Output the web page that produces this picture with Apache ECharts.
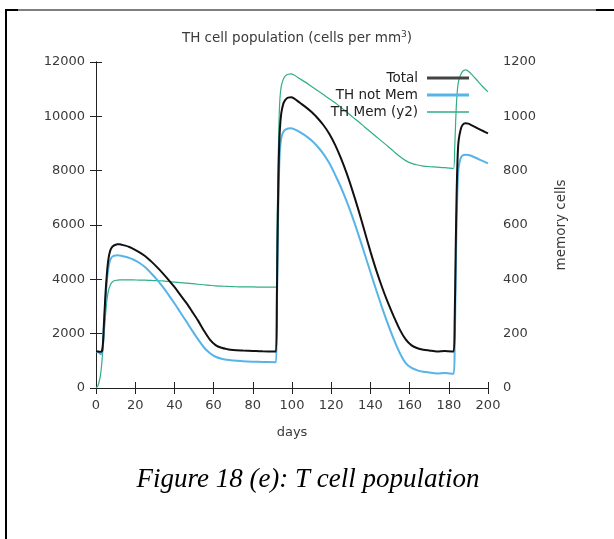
<!DOCTYPE html>
<html>
<head>
<meta charset="utf-8">
<script src="https://cdn.jsdelivr.net/npm/echarts@6/dist/echarts.min.js"></script>
<style>
  html, body { margin: 0; padding: 0; background: #fff; }
  #chart { width: 614px; height: 539px; }
</style>
</head>
<body>
<div id="chart"></div>
<script>
// Simulation time (days) shared by all three populations
const days = [
  0, 1, 2, 2.5, 3, 3.5, 4, 4.5, 5, 5.5, 6, 6.5, 7, 7.5, 8, 9, 10, 11, 12, 13,
  15, 17, 19, 22, 25, 28, 31, 34, 37, 40, 43, 46, 49, 52, 55, 58, 61, 64, 67, 70,
  75, 80, 85, 91.8, 92.3, 92.8, 93.3, 93.8, 94.5, 95.5, 96.5, 98, 99.5, 101, 104, 107,
  110, 113, 116, 119, 122, 125, 128, 131, 134, 137, 140, 143, 146, 149, 152, 155,
  158, 161, 164, 167, 170, 174, 178, 182.4, 183, 183.5, 184, 184.5, 185, 186, 187,
  188.5, 190, 192, 195, 197.5, 200
];

// Total TH cells (cells per mm^3)
const totalCells = [
  1350, 1345, 1335, 1330, 1345, 1600, 2300, 3000, 3650, 4150, 4550, 4820, 4990, 5100, 5170, 5240, 5275, 5290, 5290, 5275,
  5240, 5190, 5125, 5005, 4860, 4670, 4460, 4230, 3980, 3720, 3430, 3140, 2820, 2490, 2120, 1790, 1580, 1480, 1430, 1400,
  1380, 1365, 1350, 1340, 3500, 6500, 8500, 9500, 10100, 10450, 10600, 10690, 10700, 10660, 10500, 10340,
  10160, 9940, 9680, 9360, 8950, 8450, 7880, 7230, 6530, 5780, 5030, 4330, 3700, 3130, 2620, 2150,
  1790, 1570, 1465, 1410, 1380, 1345, 1365, 1340, 2500, 5000, 7200, 8500, 9100, 9500, 9680,
  9750, 9730, 9660, 9550, 9460, 9370
];

// TH cells that are not memory cells
const notMemCells = [
  1330, 1320, 1270, 1240, 1290, 1500, 2150, 2800, 3400, 3900, 4250, 4500, 4650, 4750, 4810, 4860, 4880, 4885, 4880, 4865,
  4830, 4785, 4730, 4610, 4450, 4235, 4000, 3730, 3430, 3120, 2790, 2460, 2120, 1800, 1500, 1290, 1150, 1080, 1040, 1010,
  985, 970, 960, 945, 3000, 5800, 7700, 8700, 9200, 9420, 9500, 9550, 9560, 9530, 9420, 9280,
  9110, 8890, 8620, 8280, 7850, 7380, 6850, 6260, 5620, 4950, 4270, 3600, 2950, 2340, 1780, 1290,
  920, 740, 650, 600, 570, 535, 555, 520, 1500, 4000, 6200, 7500, 8100, 8450, 8560,
  8590, 8575, 8530, 8430, 8350, 8270
];

// Memory TH cells (right-hand axis)
const memCells = [
  0, 8, 35, 60, 95, 140, 185, 235, 280, 320, 345, 362, 374, 382, 388, 394, 396, 397, 398, 398,
  398, 398, 398, 397, 397, 396, 395, 394, 392, 390, 388, 386, 384, 382, 380, 378, 376, 375, 374, 373,
  372, 372, 371, 371, 550, 780, 960, 1060, 1110, 1135, 1148, 1155, 1156, 1152, 1138, 1125,
  1110, 1095, 1080, 1065, 1050, 1033, 1015, 997, 980, 961, 943, 925, 907, 889, 870, 852,
  837, 827, 821, 817, 815, 813, 811, 808, 880, 980, 1060, 1105, 1130, 1152, 1165,
  1171, 1166, 1152, 1128, 1108, 1090
];

const seriesNames = ['Total', 'TH not Mem', 'TH Mem (y2)'];

const pairs = (xs, ys) => xs.map((x, i) => [x, ys[i]]);

const FONT = 'DejaVu Sans';
const axisTextColor = '#3a3a3a';
const plain = v => String(v);

const chart = echarts.init(document.getElementById('chart'), null, { renderer: 'canvas' });

const tickStyle = { show: true, inside: true, length: 6, lineStyle: { color: '#222', width: 1 } };
const lineStyle = { show: true, lineStyle: { color: '#222', width: 1 } };

const colors = { total: '#111111', notMem: '#56b4e9', mem: '#2fae88' };

chart.setOption({
  backgroundColor: '#ffffff',
  animation: false,
  title: [
    {
      text: 'TH cell population (cells per mm{sup|3})',
      left: 292,
      top: 25,
      textAlign: 'center',
      textStyle: {
        fontFamily: FONT, fontSize: 13.5, fontWeight: 'normal', color: axisTextColor,
        rich: { sup: { fontFamily: FONT, fontSize: 9, verticalAlign: 'top', padding: [0, 0, 8, 0], color: axisTextColor } }
      }
    },
    {
      text: 'Figure 18 (e): T cell population',
      left: 303,
      top: 461,
      textAlign: 'center',
      textStyle: { fontFamily: 'Liberation Serif', fontStyle: 'italic', fontWeight: 'normal', fontSize: 27, color: '#000' }
    }
  ],
  legend: {
    orient: 'vertical',
    right: 140,
    top: 66,
    align: 'right',
    icon: 'rect',
    itemWidth: 42,
    itemHeight: 3,
    itemGap: 3,
    textStyle: { fontFamily: FONT, fontSize: 13.5, color: '#222', padding: [0, 4, 0, 0] },
    data: [
      { name: seriesNames[0], itemStyle: { color: '#444444' } },
      { name: seriesNames[1], itemStyle: { color: colors.notMem } },
      { name: seriesNames[2], icon: 'path://M0,9 L100,9 L100,12 L0,12 Z', itemStyle: { color: colors.mem } }
    ]
  },
  grid: { left: 96, right: 126, top: 62, bottom: 151, outerBoundsMode: 'none', containLabel: false },
  xAxis: [
    {
      type: 'value', min: 0, max: 200, interval: 20, position: 'bottom',
      name: 'days', nameLocation: 'middle', nameGap: 38,
      nameTextStyle: { fontFamily: FONT, fontSize: 13, color: axisTextColor },
      axisLine: lineStyle, axisTick: tickStyle, splitLine: { show: false },
      axisLabel: { fontFamily: FONT, fontSize: 13, color: axisTextColor, margin: 11, formatter: plain }
    },
    {
      type: 'value', min: 0, max: 200, interval: 20, position: 'top',
      axisLine: lineStyle, axisTick: tickStyle, splitLine: { show: false },
      axisLabel: { show: false }
    }
  ],
  yAxis: [
    {
      type: 'value', min: 0, max: 12000, interval: 2000, position: 'left',
      axisLine: lineStyle, axisTick: tickStyle, splitLine: { show: false },
      axisLabel: { fontFamily: FONT, fontSize: 13, color: axisTextColor, margin: 11, formatter: plain }
    },
    {
      type: 'value', min: 0, max: 1200, interval: 200, position: 'right',
      name: 'memory cells', nameLocation: 'middle', nameGap: 66, nameRotate: 90,
      nameTextStyle: { fontFamily: FONT, fontSize: 13.5, color: axisTextColor },
      axisLine: lineStyle, axisTick: tickStyle, splitLine: { show: false },
      axisLabel: { fontFamily: FONT, fontSize: 13, color: axisTextColor, margin: 15, formatter: plain }
    }
  ],
  series: [
    {
      name: seriesNames[0], type: 'line', xAxisIndex: 0, yAxisIndex: 0,
      data: pairs(days, totalCells), showSymbol: false, symbol: 'none',
      smooth: 0.3,
      lineStyle: { color: colors.total, width: 2 }, itemStyle: { color: colors.total }, z: 3
    },
    {
      name: seriesNames[1], type: 'line', xAxisIndex: 0, yAxisIndex: 0,
      data: pairs(days, notMemCells), showSymbol: false, symbol: 'none',
      smooth: 0.3,
      lineStyle: { color: colors.notMem, width: 2 }, itemStyle: { color: colors.notMem }, z: 2
    },
    {
      name: seriesNames[2], type: 'line', xAxisIndex: 0, yAxisIndex: 1,
      data: pairs(days, memCells), showSymbol: false, symbol: 'none',
      smooth: 0.3,
      lineStyle: { color: colors.mem, width: 1.2 }, itemStyle: { color: colors.mem }, z: 1
    }
  ],
  graphic: [
    // page frame lines
    { type: 'line', shape: { x1: 6, y1: 10, x2: 614, y2: 10 }, style: { stroke: '#000', lineWidth: 1 } },
    { type: 'line', shape: { x1: 6, y1: 10, x2: 18, y2: 10 }, style: { stroke: '#000', lineWidth: 2 } },
    { type: 'line', shape: { x1: 596, y1: 10, x2: 614, y2: 10 }, style: { stroke: '#000', lineWidth: 2 } },
    { type: 'line', shape: { x1: 6, y1: 9, x2: 6, y2: 539 }, style: { stroke: '#000', lineWidth: 2 } }
  ]
});
</script>
</body>
</html>
